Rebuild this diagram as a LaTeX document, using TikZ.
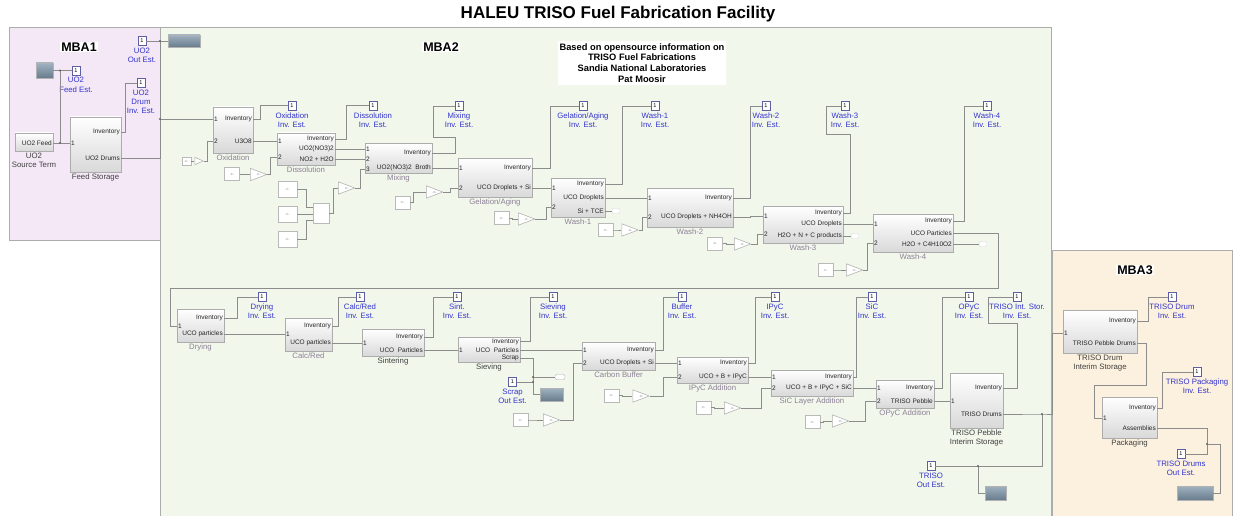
\documentclass[tikz,border=0pt]{standalone}
\usepackage{fontspec}
\setmainfont{Liberation Sans}
\usetikzlibrary{positioning,fit}

\definecolor{mbaone}{RGB}{244,232,246}
\definecolor{mbatwo}{RGB}{242,247,236}
\definecolor{mbathree}{RGB}{252,241,222}
\definecolor{estblue}{RGB}{52,52,205}
\definecolor{capgray}{RGB}{140,128,150}
\definecolor{wiregray}{RGB}{140,140,140}
\definecolor{scopetop}{RGB}{160,178,192}
\definecolor{scopebot}{RGB}{104,124,140}

\begin{document}
\begin{tikzpicture}[x=1pt, y=-1pt,
	blk/.style={draw=gray!65, top color=white, bottom color=gray!30, inner sep=0pt, line width=0.6pt},
	pl/.style={font=\fontsize{6.5}{7}\selectfont, inner sep=1pt, text=black!85},
	blkcap/.style={font=\fontsize{7.8}{9.3}\selectfont, text=capgray, inner sep=0.5pt, align=center},
	blkcapd/.style={blkcap, text=black!75},
	outp/.style={draw=estblue!45!gray, fill=white, minimum width=8pt, minimum height=9pt, inner sep=0pt, font=\fontsize{5.5}{6}\selectfont},
	est/.style={font=\fontsize{7.8}{9.3}\selectfont, text=estblue, align=center, inner sep=0.5pt},
	cst/.style={draw=gray!55, fill=white, minimum width=15pt, minimum height=13pt, inner sep=0pt, font=\fontsize{3}{3}\selectfont, text=gray},
	gain/.style={minimum width=17pt, minimum height=13pt, inner sep=0pt, font=\fontsize{3}{3}\selectfont, text=gray,
		path picture={\draw[draw=gray!60, fill=white, line width=0.6pt]
			([shift={(0.3pt,-0.3pt)}]path picture bounding box.north west) -- ([shift={(-0.3pt,0pt)}]path picture bounding box.east)
			-- ([shift={(0.3pt,0.3pt)}]path picture bounding box.south west) -- cycle;}},
	scp/.style={draw=gray!60, top color=scopetop, bottom color=scopebot, inner sep=0pt},
	trm/.style={draw=gray!30, fill=white, rounded corners=2pt, minimum width=8pt, minimum height=5pt, inner sep=0pt},
	wire/.style={draw=wiregray, line width=0.7pt},
	dot/.style={circle, fill=black!60, inner sep=0pt, minimum size=2.4pt},
	mba/.style={draw=gray!65, line width=1pt},
	mbalbl/.style={font=\fontsize{12.5}{14}\selectfont\bfseries, fill=white, inner sep=1pt}]

	\useasboundingbox (0,0) rectangle (1236,516);

	% areas
	\fill[white] (0,0) rectangle (1236,516);
	\draw[mba, fill=mbatwo] (160,28) rectangle (1051,530);
	\draw[mba, fill=mbaone] (9,28) rectangle (160,240);
	\draw[mba, fill=mbathree] (1052,250) rectangle (1232,530);

	\node[font=\fontsize{17}{20}\selectfont\bfseries] (title) at (618,14) {HALEU TRISO Fuel Fabrication Facility};
	\node[mbalbl] (mba1) at (79,47) {MBA1};
	\node[mbalbl] (mba2) at (441,47) {MBA2};
	\node[mbalbl] (mba3) at (1135,270) {MBA3};
	\node[fill=white, font=\fontsize{9.3}{10.8}\selectfont\bfseries, align=center, inner sep=2pt] (credit) at (642,63)
		{Based on opensource information on\\TRISO Fuel Fabrications\\Sandia National Laboratories\\Pat Moosir};

	% MBA1
	\node[blk, fit={(15,133) (53,151)}] (feed) {};
	\node[pl, anchor=east] (feed-o1) at (53,143) {UO2 Feed};
	\node[blkcapd, below=1pt of feed] {UO2\\Source Term};
	\node[blk, fit={(70,117) (121,172)}] (fstor) {};
	\node[pl, anchor=west] (fstor-i1) at (70,143) {1};
	\node[pl, anchor=east] (fstor-o1) at (121,132) {Inventory};
	\node[pl, anchor=east] (fstor-o2) at (121,158) {UO2 Drums};
	\node[blkcapd, below=1pt of fstor] {Feed Storage};

	\node[scp, minimum width=17pt, minimum height=15pt] (sc1) at (44.5,70.5) {};
	\node[outp] (feedest) at (76,70.5) {1};
	\node[est, below=1.5pt of feedest] {UO2\\Feed Est.};
	\node[outp] (drumest) at (141,83) {1};
	\node[est, below=1.5pt of drumest] {UO2\\Drum\\Inv. Est.};
	\node[outp] (outest) at (142,41) {1};
	\node[est, below=1.5pt of outest] {UO2\\Out Est.};
	\node[scp, minimum width=32pt, minimum height=12pt] (sc2) at (184,41) {};

	% MBA2, upper line
	\node[blk, fit={(213,107) (253,153)}] (oxid) {};
	\node[pl, anchor=west] (oxid-i1) at (213,119) {1};
	\node[pl, anchor=west] (oxid-i2) at (213,141) {2};
	\node[pl, anchor=east] (oxid-o1) at (253,119) {Inventory};
	\node[pl, anchor=east] (oxid-o2) at (253,141) {U3O8};
	\node[blkcap, below=1pt of oxid] {Oxidation};

	\node[blk, fit={(277,133) (335,165)}] (diss) {};
	\node[pl, anchor=west] (diss-i1) at (277,141) {1};
	\node[pl, anchor=west] (diss-i2) at (277,157) {2};
	\node[pl, anchor=east] (diss-o1) at (335,139) {Inventory};
	\node[pl, anchor=east] (diss-o2) at (335,149) {UO2(NO3)2};
	\node[pl, anchor=east] (diss-o3) at (335,159) {NO2 + H2O};
	\node[blkcap, below=1pt of diss] {Dissolution};

	\node[blk, fit={(365,143) (432,173)}] (mix) {};
	\node[pl, anchor=west] (mix-i1) at (365,149) {1};
	\node[pl, anchor=west] (mix-i2) at (365,159) {2};
	\node[pl, anchor=west] (mix-i3) at (365,169) {3};
	\node[pl, anchor=east] (mix-o1) at (432,153) {Inventory};
	\node[pl, anchor=east] (mix-o2) at (432,168) {UO2(NO3)2\ \ Broth};
	\node[blkcap, below=1pt of mix] {Mixing};

	\node[blk, fit={(458,158) (532,197)}] (gel) {};
	\node[pl, anchor=west] (gel-i1) at (458,168) {1};
	\node[pl, anchor=west] (gel-i2) at (458,188) {2};
	\node[pl, anchor=east] (gel-o1) at (532,168) {Inventory};
	\node[pl, anchor=east] (gel-o2) at (532,188) {UCO Droplets + Si};
	\node[blkcap, below=1pt of gel] {Gelation/Aging};

	\node[blk, fit={(551,178) (605,217)}] (w1) {};
	\node[pl, anchor=west] (w1-i1) at (551,188) {1};
	\node[pl, anchor=west] (w1-i2) at (551,207) {2};
	\node[pl, anchor=east] (w1-o1) at (605,184) {Inventory};
	\node[pl, anchor=east] (w1-o2) at (605,198) {UCO Droplets};
	\node[pl, anchor=east] (w1-o3) at (605,211) {Si + TCE};
	\node[blkcap, below=1pt of w1] {Wash-1};

	\node[blk, fit={(647,188) (733,227)}] (w2) {};
	\node[pl, anchor=west] (w2-i1) at (647,198) {1};
	\node[pl, anchor=west] (w2-i2) at (647,217) {2};
	\node[pl, anchor=east] (w2-o1) at (733,198) {Inventory};
	\node[pl, anchor=east] (w2-o2) at (733,217) {UCO Droplets + NH4OH};
	\node[blkcap, below=1pt of w2] {Wash-2};

	\node[blk, fit={(763,206) (843,243)}] (w3) {};
	\node[pl, anchor=west] (w3-i1) at (763,216) {1};
	\node[pl, anchor=west] (w3-i2) at (763,234) {2};
	\node[pl, anchor=east] (w3-o1) at (843,213) {Inventory};
	\node[pl, anchor=east] (w3-o2) at (843,224) {UCO Droplets};
	\node[pl, anchor=east] (w3-o3) at (843,236) {H2O + N + C products};
	\node[blkcap, below=1pt of w3] {Wash-3};

	\node[blk, fit={(873,214) (953,252)}] (w4) {};
	\node[pl, anchor=west] (w4-i1) at (873,224) {1};
	\node[pl, anchor=west] (w4-i2) at (873,243) {2};
	\node[pl, anchor=east] (w4-o1) at (953,221) {Inventory};
	\node[pl, anchor=east] (w4-o2) at (953,233) {UCO Particles};
	\node[pl, anchor=east] (w4-o3) at (953,244) {H2O + C4H10O2};
	\node[blkcap, below=1pt of w4] {Wash-4};

	\node[trm] (t1) at (616,211) {};
	\node[trm] (t2) at (855,236) {};
	\node[trm] (t3) at (983,244) {};

	\node[outp] (oxest) at (292,105.5) {1};
	\node[est, below=1.5pt of oxest] {Oxidation\\Inv. Est.};
	\node[outp] (disest) at (373,105.5) {1};
	\node[est, below=1.5pt of disest] {Dissolution\\Inv. Est.};
	\node[outp] (mixest) at (459,106) {1};
	\node[est, below=1.5pt of mixest] {Mixing\\Inv. Est.};
	\node[outp] (gelest) at (583,106) {1};
	\node[est, below=1.5pt of gelest] {Gelation/Aging\\Inv. Est.};
	\node[outp] (w1est) at (655,106) {1};
	\node[est, below=1.5pt of w1est] {Wash-1\\Inv. Est.};
	\node[outp] (w2est) at (766,106) {1};
	\node[est, below=1.5pt of w2est] {Wash-2\\Inv. Est.};
	\node[outp] (w3est) at (845,106) {1};
	\node[est, below=1.5pt of w3est] {Wash-3\\Inv. Est.};
	\node[outp] (w4est) at (987,106) {1};
	\node[est, below=1.5pt of w4est] {Wash-4\\Inv. Est.};

	% MBA2, lower line
	\node[blk, fit={(177,309) (224,342)}] (dry) {};
	\node[pl, anchor=west] (dry-i1) at (177,326) {1};
	\node[pl, anchor=east] (dry-o1) at (224,318) {Inventory};
	\node[pl, anchor=east] (dry-o2) at (224,334) {UCO particles};
	\node[blkcap, below=1pt of dry] {Drying};

	\node[blk, fit={(285,318) (332,351)}] (calc) {};
	\node[pl, anchor=west] (calc-i1) at (285,334) {1};
	\node[pl, anchor=east] (calc-o1) at (332,326) {Inventory};
	\node[pl, anchor=east] (calc-o2) at (332,343) {UCO particles};
	\node[blkcap, below=1pt of calc] {Calc/Red};

	\node[blk, fit={(362,329) (424,356)}] (sint) {};
	\node[pl, anchor=west] (sint-i1) at (362,343) {1};
	\node[pl, anchor=east] (sint-o1) at (424,337) {Inventory};
	\node[pl, anchor=east] (sint-o2) at (424,350) {UCO\ \ Particles};
	\node[blkcapd, below=1pt of sint] {Sintering};

	\node[blk, fit={(458,337) (520,362)}] (siev) {};
	\node[pl, anchor=west] (siev-i1) at (458,350) {1};
	\node[pl, anchor=east] (siev-o1) at (520,341.5) {Inventory};
	\node[pl, anchor=east] (siev-o2) at (520,350) {UCO\ \ Particles};
	\node[pl, anchor=east] (siev-o3) at (520,358) {Scrap};
	\node[blkcapd, below=1pt of siev] {Sieving};

	\node[blk, fit={(582,342) (655,370)}] (cbuf) {};
	\node[pl, anchor=west] (cbuf-i1) at (582,350) {1};
	\node[pl, anchor=west] (cbuf-i2) at (582,363) {2};
	\node[pl, anchor=east] (cbuf-o1) at (655,350) {Inventory};
	\node[pl, anchor=east] (cbuf-o2) at (655,363) {UCO Droplets + Si};
	\node[blkcap, below=1pt of cbuf] {Carbon Buffer};

	\node[blk, fit={(677,357) (748,383)}] (ipyc) {};
	\node[pl, anchor=west] (ipyc-i1) at (677,363) {1};
	\node[pl, anchor=west] (ipyc-i2) at (677,377) {2};
	\node[pl, anchor=east] (ipyc-o1) at (748,363) {Inventory};
	\node[pl, anchor=east] (ipyc-o2) at (748,377) {UCO + B + IPyC};
	\node[blkcap, below=1pt of ipyc] {IPyC Addition};

	\node[blk, fit={(771,370) (853,396)}] (sic) {};
	\node[pl, anchor=west] (sic-i1) at (771,377) {1};
	\node[pl, anchor=west] (sic-i2) at (771,388) {2};
	\node[pl, anchor=east] (sic-o1) at (853,377) {Inventory};
	\node[pl, anchor=east] (sic-o2) at (853,388) {UCO + B + IPyC + SiC};
	\node[blkcap, below=1pt of sic] {SiC Layer Addition};

	\node[blk, fit={(876,380) (934,408)}] (opyc) {};
	\node[pl, anchor=west] (opyc-i1) at (876,388) {1};
	\node[pl, anchor=west] (opyc-i2) at (876,401) {2};
	\node[pl, anchor=east] (opyc-o1) at (934,388) {Inventory};
	\node[pl, anchor=east] (opyc-o2) at (934,401) {TRISO Pebble};
	\node[blkcap, below=1pt of opyc] {OPyC Addition};

	\node[blk, fit={(950,373) (1003,428)}] (tps) {};
	\node[pl, anchor=west] (tps-i1) at (950,401) {1};
	\node[pl, anchor=east] (tps-o1) at (1003,388) {Inventory};
	\node[pl, anchor=east] (tps-o2) at (1003,414) {TRISO Drums};
	\node[blkcapd, below=1pt of tps] {TRISO Pebble\\Interim Storage};

	\node[trm, draw=gray!60, minimum width=10pt] (t4) at (560,377) {};
	\node[scp, minimum width=23pt, minimum height=13pt] (sc3) at (551.5,394.5) {};
	\node[scp, minimum width=21pt, minimum height=14pt] (sc4) at (995.5,493) {};

	\node[outp] (dryest) at (262,297) {1};
	\node[est, below=1.5pt of dryest] {Drying\\Inv. Est.};
	\node[outp] (calcest) at (360,297) {1};
	\node[est, below=1.5pt of calcest] {Calc/Red\\Inv. Est.};
	\node[outp] (sintest) at (457,297) {1};
	\node[est, below=1.5pt of sintest] {Sint.\\Inv. Est.};
	\node[outp] (sievest) at (553,297) {1};
	\node[est, below=1.5pt of sievest] {Sieving\\Inv. Est.};
	\node[outp] (bufest) at (682,297) {1};
	\node[est, below=1.5pt of bufest] {Buffer\\Inv. Est.};
	\node[outp] (ipycest) at (775,297) {1};
	\node[est, below=1.5pt of ipycest] {IPyC\\Inv. Est.};
	\node[outp] (sicest) at (872,297) {1};
	\node[est, below=1.5pt of sicest] {SiC\\Inv. Est.};
	\node[outp] (opycest) at (969,297) {1};
	\node[est, below=1.5pt of opycest] {OPyC\\Inv. Est.};
	\node[outp] (tisest) at (1017,297) {1};
	\node[est, below=1.5pt of tisest] {TRISO Int. Stor.\\Inv. Est.};
	\node[outp] (scrapest) at (512.5,382) {1};
	\node[est, below=1.5pt of scrapest] {Scrap\\Out Est.};
	\node[outp] (trisoest) at (931,466) {1};
	\node[est, below=1.5pt of trisoest] {TRISO\\Out Est.};

	% MBA3
	\node[blk, fit={(1063,310) (1137,353)}] (tds) {};
	\node[pl, anchor=west] (tds-i1) at (1063,333) {1};
	\node[pl, anchor=east] (tds-o1) at (1137,321) {Inventory};
	\node[pl, anchor=east] (tds-o2) at (1137,343) {TRISO Pebble Drums};
	\node[blkcapd, below=1pt of tds] {TRISO Drum\\Interim Storage};

	\node[blk, fit={(1102,397) (1157,438)}] (pack) {};
	\node[pl, anchor=west] (pack-i1) at (1102,418) {1};
	\node[pl, anchor=east] (pack-o1) at (1157,408) {Inventory};
	\node[pl, anchor=east] (pack-o2) at (1157,428) {Assemblies};
	\node[blkcapd, below=1pt of pack] {Packaging};

	\node[outp] (tdest) at (1172,297) {1};
	\node[est, below=1.5pt of tdest] {TRISO Drum\\Inv. Est.};
	\node[outp] (packest) at (1197,372) {1};
	\node[est, below=1.5pt of packest] {TRISO Packaging\\Inv. Est.};
	\node[outp] (tdoutest) at (1181,454) {1};
	\node[est, below=1.5pt of tdoutest] {TRISO Drums\\Out Est.};
	\node[scp, minimum width=36pt, minimum height=14pt] (sc5) at (1195,493) {};

	% constants and gains
	\node[cst, minimum width=9pt, minimum height=8pt] (k0) at (186.5,161) {-C-};
	\node[gain, minimum width=9pt, minimum height=8pt] (g0) at (199,161) {};
	\draw[wire] (k0.east) -- (g0.west);
	\draw[wire] (g0.east) -- (207,161) |- (oxid-i2.west);
	\foreach \cx/\cy/\gx/\gy/\vx/\tgt [count=\n] in {232/174/258.5/174.5/270/diss-i2, 402.5/202.5/434.5/192/450/gel-i2,
		501.5/218/526.5/219/546/w1-i2, 605.5/230/630/230/642/w2-i2, 715/243.5/742.5/244/757/w3-i2,
		825.5/270/854.5/270/867/w4-i2, 520.5/420/551.5/420/573/cbuf-i2, 611.5/395.5/641/396/663/ipyc-i2,
		703.5/407.5/732.5/408/761/sic-i2, 812.5/422/840.5/421/865/opyc-i2}
	{
		\node[cst] (k\n) at (\cx,\cy) {-C-};
		\node[gain] (g\n) at (\gx,\gy) {-K-};
		\draw[wire] (k\n.east) -- (\cx+11,\cy) |- (g\n.west);
		\draw[wire] (g\n.east) -- (\vx,\gy) |- (\tgt.west);
	}

	\node[cst, minimum width=19pt, minimum height=16pt] (m1) at (287.5,189) {-C-};
	\node[cst, minimum width=19pt, minimum height=16pt] (m2) at (287.5,214) {-C-};
	\node[cst, minimum width=19pt, minimum height=16pt] (m3) at (287.5,239) {-C-};
	\node[draw=gray!55, fill=white, minimum width=16pt, minimum height=20pt, inner sep=0pt] (mux) at (321,213) {};
	\node[gain] (gm) at (346.5,188) {-K-};
	\draw[wire] (m1.east) -- (306,189) |- (mux.west |- 0,207);
	\draw[wire] (m2.east) -- (mux.west |- m2.east);
	\draw[wire] (m3.east) -- (306,239) |- (mux.west |- 0,220);
	\draw[wire] (mux.east) -- (333,213) |- (gm.west);
	\draw[wire] (gm.east) -- (360,188) |- (mix-i3.west);

	% signal lines
	\coordinate (ja) at (60,143);
	\coordinate (jb) at (60,70.5);
	\coordinate (jc) at (160,119);
	\coordinate (jd) at (160,41);
	\coordinate (je) at (533,377);
	\coordinate (jf) at (533,382);
	\coordinate (jg) at (1042,414);
	\coordinate (jh) at (978,466);
	\coordinate (ji) at (1207,444);
	\coordinate (fb1) at (998,288);
	\coordinate (fb2) at (170,288);

	\draw[wire] (feed-o1.east) -- (fstor-i1.west);
	\draw[wire] (ja) -- (jb);
	\draw[wire] (sc1.east) -- (feedest.west);
	\draw[wire] (fstor-o1.east) -- ++(4,0) |- (drumest.west);
	\draw[wire] (fstor-o2.east) -| (jc) -- (oxid-i1.west);
	\draw[wire] (jc) -- (jd);
	\draw[wire] (outest.east) -- (sc2.west);

	\draw[wire] (oxid-o1.east) -- ++(7,0) |- (oxest.west);
	\draw[wire] (oxid-o2.east) -- (diss-i1.west);
	\draw[wire] (diss-o1.east) -- ++(11,0) |- (disest.west);
	\draw[wire] (diss-o2.east) -- (mix-i1.west);
	\draw[wire] (diss-o3.east) -- (mix-i2.west);
	\draw[wire] (mix-o1.east) -- ++(23,0) -- ++(0,-16) -- ++(-22,0) |- (mixest.west);
	\draw[wire] (mix-o2.east) -- (gel-i1.west);
	\draw[wire] (gel-o1.east) -- ++(18,0) |- (gelest.west);
	\draw[wire] (gel-o2.east) -- (w1-i1.west);
	\draw[wire] (w1-o1.east) -- ++(17,0) |- (w1est.west);
	\draw[wire] (w1-o2.east) -- (w2-i1.west);
	\draw[wire] (w1-o3.east) -- (t1.west);
	\draw[wire] (w2-o1.east) -- ++(17,0) |- (w2est.west);
	\draw[wire] (w2-o2.east) -- ++(17,0) |- (w3-i1.west);
	\draw[wire] (w3-o1.east) -- ++(7,0) -- ++(0,-79) -- ++(-24,0) |- (w3est.west);
	\draw[wire] (w3-o2.east) -- (w4-i1.west);
	\draw[wire] (w3-o3.east) -- (t2.west);
	\draw[wire] (w4-o1.east) -- ++(11,0) |- (w4est.west);
	\draw[wire] (w4-o2.east) -| (fb1) -- (fb2) |- (dry-i1.west);
	\draw[wire] (w4-o3.east) -- (t3.west);

	\draw[wire] (dry-o1.east) -- ++(13,0) |- (dryest.west);
	\draw[wire] (dry-o2.east) -- (calc-i1.west);
	\draw[wire] (calc-o1.east) -- ++(6,0) |- (calcest.west);
	\draw[wire] (calc-o2.east) -- (sint-i1.west);
	\draw[wire] (sint-o1.east) -- ++(9,0) |- (sintest.west);
	\draw[wire] (sint-o2.east) -- (siev-i1.west);
	\draw[wire] (siev-o1.east) -- ++(10,0) |- (sievest.west);
	\draw[wire] (siev-o2.east) -- (cbuf-i1.west);
	\draw[wire] (siev-o3.east) -- ++(13,0) |- (sc3.west);
	\draw[wire] (je) -- (t4.west);
	\draw[wire] (jf) -- (scrapest.east);
	\draw[wire] (cbuf-o1.east) -- ++(8,0) |- (bufest.west);
	\draw[wire] (cbuf-o2.east) -- (ipyc-i1.west);
	\draw[wire] (ipyc-o1.east) -- ++(7,0) |- (ipycest.west);
	\draw[wire] (ipyc-o2.east) -- (sic-i1.west);
	\draw[wire] (sic-o1.east) -- ++(3,0) |- (sicest.west);
	\draw[wire] (sic-o2.east) -- (opyc-i1.west);
	\draw[wire] (opyc-o1.east) -- ++(8,0) |- (opycest.west);
	\draw[wire] (opyc-o2.east) -- (tps-i1.west);
	\draw[wire] (tps-o1.east) -- ++(14,0) -- ++(0,-65) -- ++(-29,0) |- (tisest.west);
	\draw[wire] (tps-o2.east) -- (jg) -- ++(10,0) |- (tds-i1.west);
	\draw[wire] (jg) |- (trisoest.east);
	\draw[wire] (jh) |- (sc4.west);

	\draw[wire] (tds-o1.east) -- ++(11,0) |- (tdest.west);
	\draw[wire] (tds-o2.east) -- ++(9,0) -- ++(0,42) -| (1094,400) |- (pack-i1.west);
	\draw[wire] (pack-o1.east) -- ++(5,0) |- (packest.west);
	\draw[wire] (pack-o2.east) -| (ji) |- (tdoutest.east);
	\draw[wire] (ji) -- ++(13,0) |- (sc5.east);

	\foreach \j in {ja,jb,jc,jd,je,jf,jg,jh,ji}
		\node[dot] at (\j) {};

\end{tikzpicture}
\end{document}
